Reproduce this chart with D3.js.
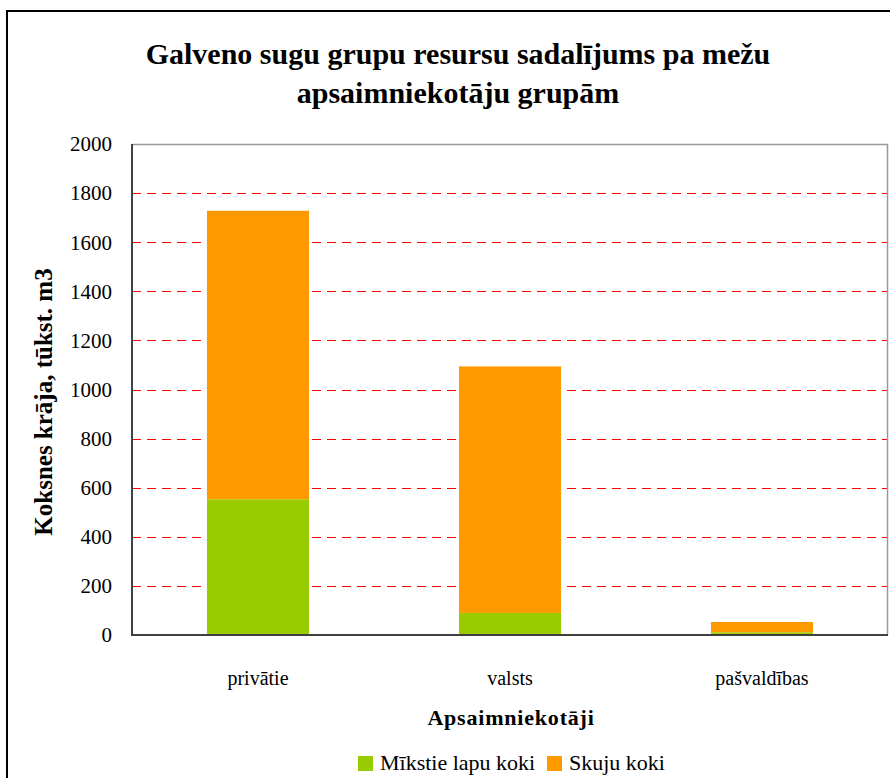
<!DOCTYPE html>
<html>
<head>
<meta charset="utf-8">
<script src="https://cdn.jsdelivr.net/npm/d3@7"></script>
<style>
  body { margin: 0; background: #fff; }
  svg text { font-family: "Liberation Serif", "Times New Roman", serif; fill: #000; }
</style>
</head>
<body>
<div id="chart"></div>
<script>
// data (tūkst. m3)
var categories = ["privātie", "valsts", "pašvaldības"];
var mikstieLapu = [553, 90, 11];
var skujuKoki = [1175, 1004, 42];
var seriesNames = ["Mīkstie lapu koki", "Skuju koki"];
var seriesColors = ["#99CC00", "#FF9900"];
var yTicks = [0, 200, 400, 600, 800, 1000, 1200, 1400, 1600, 1800, 2000];

var W = 890, H = 778;
var margin = {top: 144, left: 132, right: 2, bottom: 143};
var width = W - margin.left - margin.right,
    height = H - margin.top - margin.bottom;

var svg = d3.select("#chart").append("svg")
    .attr("width", W)
    .attr("height", H);

// outer chart frame (runs off the right / bottom edge)
svg.append("rect")
    .attr("x", 7).attr("y", 11)
    .attr("width", 920).attr("height", 820)
    .attr("fill", "none")
    .attr("stroke", "#000")
    .attr("stroke-width", 2);

// title
var title = svg.append("text")
    .attr("text-anchor", "middle")
    .attr("font-weight", "bold")
    .attr("font-size", 30);
title.append("tspan").attr("x", 458).attr("y", 64).text("Galveno sugu grupu resursu sadalījums pa mežu");
title.append("tspan").attr("x", 458).attr("y", 103).text("apsaimniekotāju grupām");

var g = svg.append("g")
    .attr("transform", "translate(" + margin.left + "," + margin.top + ")");

var x = d3.scaleBand().domain(categories).range([0, width]).padding(0);
var y = d3.scaleLinear().domain([0, 2000]).range([height, 0]);

// stacked data
var rows = categories.map(function(c, i) {
  return {cat: c, a: mikstieLapu[i], b: skujuKoki[i]};
});
var stack = d3.stack().keys(["a", "b"])(rows);

// gridlines
g.selectAll(".grid")
  .data(yTicks.filter(function(d) { return d > 0; }))
  .enter().append("line")
    .attr("x1", 0).attr("x2", width)
    .attr("y1", function(d) { return Math.round(y(d)) + 0.5; })
    .attr("y2", function(d) { return Math.round(y(d)) + 0.5; })
    .attr("stroke", "#FF0000")
    .attr("stroke-dasharray", "9,6");

// plot border top/right
g.append("path")
  .attr("d", "M0," + 0.5 + "H" + (width - 0.5) + "V" + height)
  .attr("fill", "none")
  .attr("stroke", "#999")
  .attr("stroke-width", 1.5);

// bars
var barW = x.bandwidth() * 0.405;
g.selectAll(".layer")
  .data(stack)
  .enter().append("g")
    .attr("fill", function(d, i) { return seriesColors[i]; })
  .selectAll("rect")
  .data(function(d) { return d; })
  .enter().append("rect")
    .attr("x", function(d) { return x(d.data.cat) + (x.bandwidth() - barW) / 2; })
    .attr("width", barW)
    .attr("y", function(d) { return y(d[1]); })
    .attr("height", function(d) { return y(d[0]) - y(d[1]); });

// axes lines
g.append("line")
  .attr("x1", 0).attr("x2", 0).attr("y1", 0).attr("y2", height)
  .attr("stroke", "#404040").attr("stroke-width", 2);
g.append("line")
  .attr("x1", -1).attr("x2", width).attr("y1", height).attr("y2", height)
  .attr("stroke", "#404040").attr("stroke-width", 2);

// y tick labels
g.selectAll(".ytick")
  .data(yTicks)
  .enter().append("text")
    .attr("x", -20)
    .attr("y", function(d) { return y(d); })
    .attr("dy", "0.35em")
    .attr("text-anchor", "end")
    .attr("font-size", 21)
    .text(function(d) { return d; });

// x labels
g.selectAll(".xtick")
  .data(categories)
  .enter().append("text")
    .attr("x", function(d) { return x(d) + x.bandwidth() / 2; })
    .attr("y", height + 50)
    .attr("text-anchor", "middle")
    .attr("font-size", 20)
    .text(function(d) { return d; });

// axis titles
svg.append("text")
  .attr("x", 511).attr("y", 725)
  .attr("text-anchor", "middle")
  .attr("font-weight", "bold")
  .attr("font-size", 22)
  .attr("letter-spacing", 0.8)
  .text("Apsaimniekotāji");

svg.append("text")
  .attr("transform", "translate(52,402) rotate(-90)")
  .attr("text-anchor", "middle")
  .attr("font-weight", "bold")
  .attr("font-size", 25)
  .text("Koksnes krāja, tūkst. m3");

// legend
var legendX = [358, 547];
var lg = svg.selectAll(".legend")
  .data(seriesNames)
  .enter().append("g")
    .attr("transform", function(d, i) { return "translate(" + legendX[i] + ",756)"; });
lg.append("rect")
  .attr("width", 15).attr("height", 15)
  .attr("fill", function(d, i) { return seriesColors[i]; });
lg.append("text")
  .attr("x", 22).attr("y", 14)
  .attr("font-size", 22)
  .text(function(d) { return d; });
</script>
</body>
</html>
